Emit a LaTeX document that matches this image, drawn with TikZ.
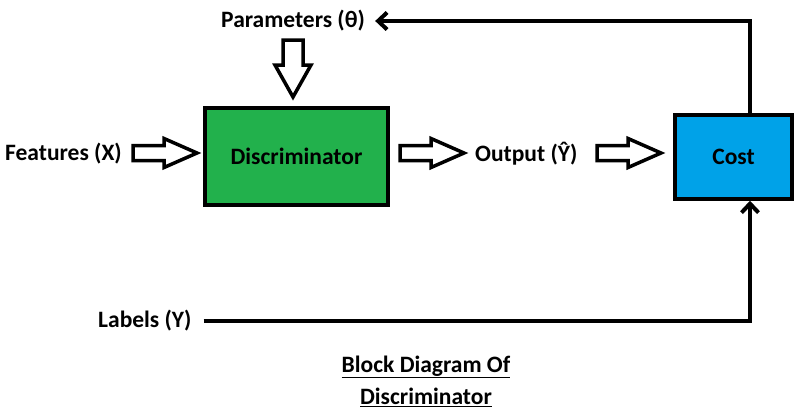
\documentclass[tikz,border=0pt]{standalone}
\usepackage{fontspec}
\setmainfont{Carlito}
\usetikzlibrary{arrows.meta,calc}
\definecolor{discgreen}{HTML}{22B14C}
\definecolor{costblue}{HTML}{00A2E8}
\tikzset{
  lbl/.style={font=\fontsize{23.5}{27}\selectfont\bfseries, inner sep=0pt},
  blockbox/.style={draw=black, line width=3.5pt, inner sep=0pt},
  blockarr/.style={draw=black, fill=white, line width=3.5pt, line join=miter},
  wire/.style={draw=black, line width=4pt},
  tip/.style={-{Straight Barb[length=9pt,width=17pt,line width=4pt]}},
  rarrow/.pic={\path[blockarr] (0,-7.5) -- (31,-7.5) -- (31,-14.5) -- (64,0) -- (31,14.5) -- (31,7.5) -- (0,7.5) -- cycle;},
  darrow/.pic={\path[blockarr] (-10,0) -- (10,0) -- (10,25) -- (18,25) -- (0,57) -- (-18,25) -- (-10,25) -- cycle;}
}
\begin{document}
\begin{tikzpicture}[x=1pt,y=-1pt]
\useasboundingbox (0,0) rectangle (800,416);
\node[blockbox, fill=discgreen, minimum width=183pt, minimum height=97pt] (disc) at (296.5,156.5) {};
\node[lbl] at (disc.center) {Discriminator};
\node[blockbox, fill=costblue, minimum width=117pt, minimum height=84pt] (cost) at (733.5,157) {};
\node[lbl] at (cost.center) {Cost};
\node[lbl, anchor=west] (params) at (221,21) {Parameters (θ)};
\node[lbl, anchor=west] (feat) at (5,154) {Features (X)};
\node[lbl, anchor=west] (out) at (475,154) {Output (Ŷ)};
\node[lbl, anchor=west] (labels) at (98,321) {Labels (Y)};
\node[lbl, align=center] (cap) at (426,381) {\underline{Block Diagram Of}\\[5pt]\underline{Discriminator}};
\coordinate (fbtop) at ($(cost.north)+(16.5,0)$);
\coordinate (fbbot) at ($(cost.south)+(16.5,0)$);
\draw[wire, tip, line join=miter] (fbtop) |- ([xshift=10pt]params.east);
\draw[wire, tip, line join=miter] ([xshift=12pt]labels.east) -| (fbbot);
\pic at (133,153) {rarrow};
\pic at (400,153) {rarrow};
\pic at (597,153) {rarrow};
\pic at (293,40) {darrow};
\end{tikzpicture}
\end{document}
